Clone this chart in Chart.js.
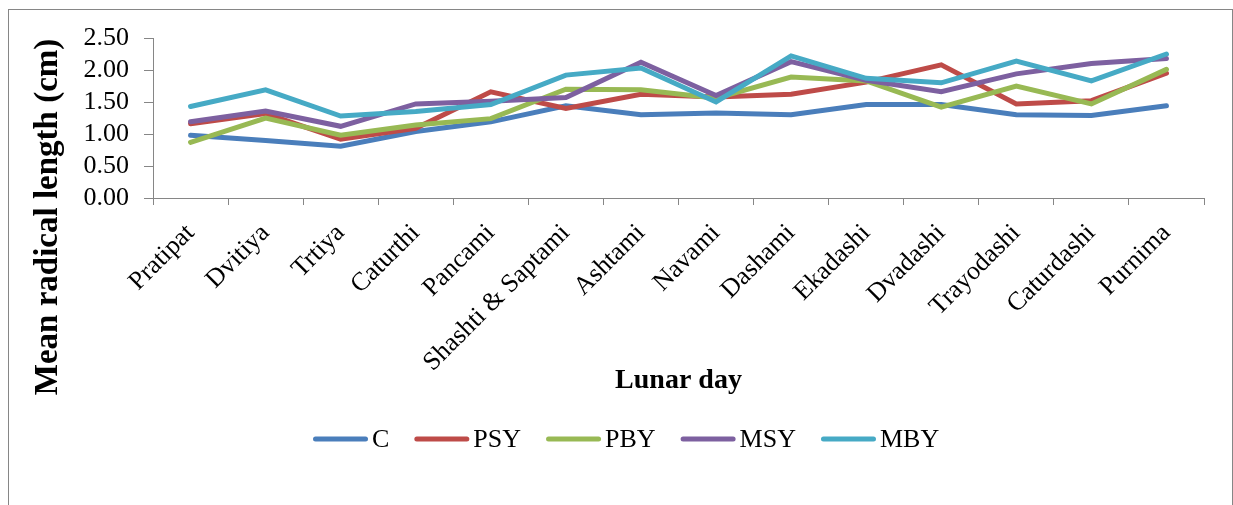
<!DOCTYPE html>
<html>
<head>
<meta charset="utf-8">
<script src="https://cdn.jsdelivr.net/npm/chart.js@4"></script>
<style>
  html, body { margin: 0; padding: 0; background: #fff; }
  #wrap { width: 1233px; height: 505px; }
</style>
</head>
<body>
<div id="wrap"><canvas id="lunarChart"></canvas></div>
<script>
// Lunar days on the x axis
const lunarDays = ['Pratipat', 'Dvitiya', 'Trtiya', 'Caturthi', 'Pancami', 'Shashti & Saptami',
    'Ashtami', 'Navami', 'Dashami', 'Ekadashi', 'Dvadashi', 'Trayodashi', 'Caturdashi', 'Purnima'];

// Mean radical length (cm) per treatment
const seriesC   = [0.98, 0.90, 0.81, 1.04, 1.19, 1.44, 1.30, 1.33, 1.30, 1.46, 1.46, 1.30, 1.29, 1.44];
const seriesPSY = [1.16, 1.32, 0.92, 1.09, 1.66, 1.40, 1.62, 1.58, 1.62, 1.81, 2.08, 1.47, 1.52, 1.95];
const seriesPBY = [0.87, 1.25, 0.98, 1.14, 1.24, 1.70, 1.69, 1.56, 1.89, 1.83, 1.42, 1.75, 1.47, 2.01];
const seriesMSY = [1.19, 1.36, 1.12, 1.47, 1.51, 1.57, 2.12, 1.60, 2.13, 1.84, 1.66, 1.94, 2.10, 2.18];
const seriesMBY = [1.43, 1.69, 1.28, 1.35, 1.46, 1.92, 2.03, 1.50, 2.22, 1.87, 1.80, 2.14, 1.83, 2.25];

const seriesNames = ['C', 'PSY', 'PBY', 'MSY', 'MBY'];
const yTicks = [0, 0.5, 1, 1.5, 2, 2.5];

const colors = ['#4a7ebb', '#be4b48', '#98b954', '#7d60a0', '#46aac5'];
const axisGray = '#868686';
const serif = '"Liberation Serif", "Times New Roman", serif';

Chart.defaults.color = '#000';
Chart.defaults.font.family = serif;

const allSeries = [seriesC, seriesPSY, seriesPBY, seriesMSY, seriesMBY];
const datasets = allSeries.map((values, i) => ({
    label: seriesNames[i],
    data: values,
    borderColor: colors[i],
    backgroundColor: colors[i],
    borderWidth: 5,
    borderCapStyle: 'round',
    borderJoinStyle: 'miter',
    pointRadius: 0,
    tension: 0,
    order: allSeries.length - i   // later series drawn on top, like Excel
}));

// frame, axis titles and legend drawn by hand
const decorations = {
    id: 'decorations',
    beforeDraw(chart) {
        const ctx = chart.ctx;
        ctx.save();
        ctx.fillStyle = '#fff';
        ctx.fillRect(0, 0, chart.width, chart.height);
        ctx.strokeStyle = axisGray;
        ctx.lineWidth = 1;
        ctx.strokeRect(8.5, 9.5, 1224, 600);
        ctx.restore();
    },
    afterDraw(chart) {
        const ctx = chart.ctx;
        ctx.save();
        ctx.fillStyle = '#000';
        ctx.textAlign = 'center';
        ctx.textBaseline = 'middle';

        // y title
        ctx.font = 'bold 33px ' + serif;
        ctx.save();
        ctx.translate(48, 217);
        ctx.rotate(-Math.PI / 2);
        ctx.fillText('Mean radical length (cm)', 0, 0);
        ctx.restore();

        // x title
        const area = chart.chartArea;
        ctx.font = 'bold 28px ' + serif;
        ctx.fillText('Lunar day', (area.left + area.right) / 2, 381);

        // legend
        ctx.font = '26px ' + serif;
        ctx.textAlign = 'left';
        let x = 313;
        const y = 439;
        chart.data.datasets.forEach(ds => {
            ctx.strokeStyle = ds.borderColor;
            ctx.lineWidth = 5;
            ctx.lineCap = 'round';
            ctx.beginPath();
            ctx.moveTo(x + 2.5, y);
            ctx.lineTo(x + 52.5, y);
            ctx.stroke();
            ctx.fillText(ds.label, x + 59, y + 1);
            x += 59 + ctx.measureText(ds.label).width + 25;
        });
        ctx.restore();
    }
};

new Chart(document.getElementById('lunarChart'), {
    type: 'line',
    data: { labels: lunarDays, datasets: datasets },
    options: {
        responsive: true,
        maintainAspectRatio: false,
        animation: false,
        layout: { padding: { top: 38, right: 29, bottom: 0, left: 0 } },
        plugins: {
            legend: { display: false },
            tooltip: { enabled: false }
        },
        scales: {
            x: {
                offset: true,
                grid: { drawOnChartArea: false, offset: true, color: axisGray, tickLength: 7 },
                border: { color: axisGray, width: 1 },
                ticks: {
                    font: { size: 26 },
                    maxRotation: 45,
                    minRotation: 45,
                    autoSkip: false,
                    padding: 13
                },
                afterFit(scale) { scale.height = 307; }
            },
            y: {
                min: 0,
                max: 2.5,
                afterBuildTicks(scale) { scale.ticks = yTicks.map(v => ({ value: v })); },
                grid: { drawOnChartArea: false, color: axisGray, tickLength: 9 },
                border: { color: axisGray, width: 1 },
                ticks: {
                    font: { size: 26 },
                    padding: 15,
                    autoSkip: false,
                    callback: v => v.toFixed(2)
                },
                afterFit(scale) { scale.width = 153; }
            }
        }
    },
    plugins: [decorations]
});
</script>
</body>
</html>
